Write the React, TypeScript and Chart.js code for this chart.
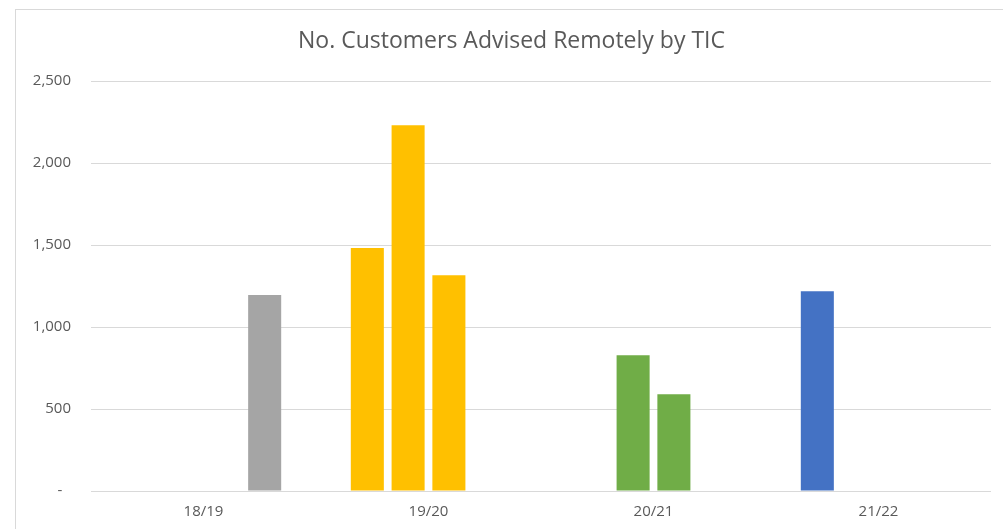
import React, { useEffect, useRef } from "react";
import { Chart, registerables } from "chart.js";

Chart.register(...registerables);

const categories = ["18/19", "19/20", "20/21", "21/22"];
const categoryColors = ["#A5A5A5", "#FFC000", "#70AD47", "#4472C4"];
const slot1 = [null, 1482, null, 1218];
const slot2 = [null, 2230, 827, null];
const slot3 = [null, 1315, 590, null];
const slot4 = [1195, null, null, null];
const yTicks = [0, 500, 1000, 1500, 2000, 2500];
const titleText = "No. Customers Advised Remotely by TIC";

const FONT = "'Open Sans', 'Liberation Sans', sans-serif";
const TEXT = "#595959";
const GRID = "#D9D9D9";

export default function App() {
  const ref = useRef<HTMLCanvasElement | null>(null);

  useEffect(() => {
    if (!ref.current) return;
    const mk = (label: string, data: (number | null)[]) => ({
      label,
      data,
      backgroundColor: categoryColors,
      borderWidth: 0,
      categoryPercentage: 0.725,
      barPercentage: 0.81,
    });
    const chart = new Chart(ref.current, {
      type: "bar",
      data: {
        labels: categories,
        datasets: [mk("1", slot1), mk("2", slot2), mk("3", slot3), mk("4", slot4)],
      },
      options: {
        responsive: false,
        animation: false,
        layout: { padding: { left: 32, right: 12, top: 0, bottom: 0 } },
        plugins: {
          legend: { display: false },
          tooltip: { enabled: false },
          title: {
            display: true,
            text: titleText,
            color: TEXT,
            font: { family: FONT, size: 23, weight: "normal", lineHeight: 1.2 },
            padding: { top: 28, bottom: 25.4 },
          },
        },
        scales: {
          x: {
            grid: { display: false, drawTicks: false },
            border: { display: false },
            ticks: {
              color: TEXT,
              font: { family: FONT, size: 15 },
              padding: 12,
              maxRotation: 0,
            },
            afterFit: (s: any) => {
              s.height = 38;
            },
          },
          y: {
            min: 0,
            max: 2500,
            grid: { color: GRID, lineWidth: 1, drawTicks: false },
            border: { display: false },
            afterBuildTicks: (s: any) => {
              s.ticks = yTicks.map((v) => ({ value: v }));
            },
            ticks: {
              color: TEXT,
              font: { family: FONT, size: 15 },
              padding: 20,
              callback: (v: any) =>
                Number(v) === 0 ? "-\u2007" : Number(v).toLocaleString("en-US"),
            },
            afterFit: (s: any) => {
              s.width = 59;
            },
          },
        },
      },
    });
    return () => chart.destroy();
  }, []);

  return (
    <div
      style={{
        position: "fixed",
        left: 0,
        top: 0,
        width: 1003,
        height: 529,
        background: "#fff",
        overflow: "hidden",
      }}
    >
      <div
        style={{
          position: "absolute",
          left: 15,
          top: 9,
          width: 1100,
          height: 600,
          borderLeft: "1px solid #D9D9D9",
          borderTop: "1px solid #D9D9D9",
        }}
      />
      <canvas
        ref={ref}
        width={1003}
        height={529}
        style={{ position: "absolute", left: 0, top: 0, width: 1003, height: 529 }}
      />
    </div>
  );
}
